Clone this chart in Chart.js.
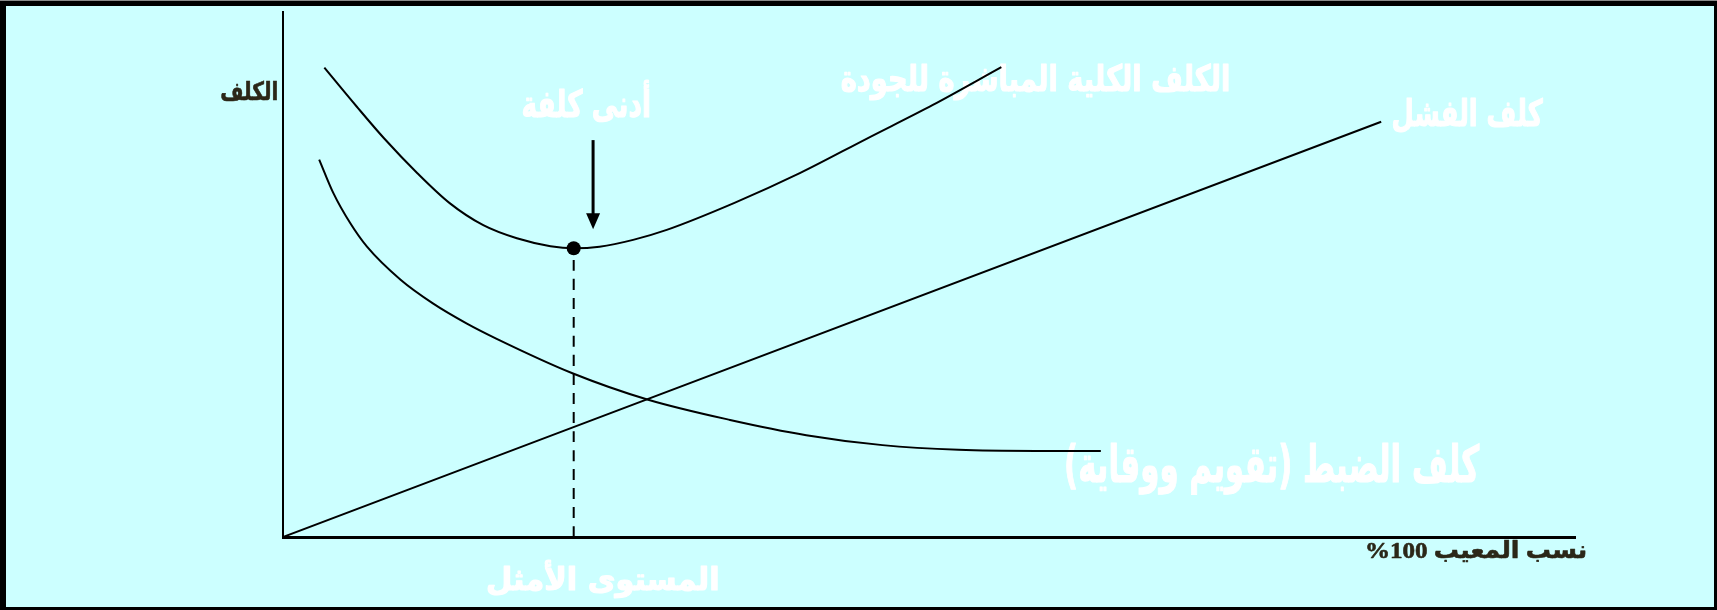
<!DOCTYPE html>
<html lang="ar">
<head>
<meta charset="utf-8">
<title>الكلف الكلية المباشرة للجودة</title>
<script src="https://cdn.jsdelivr.net/npm/chart.js@4.4.1/dist/chart.umd.min.js"></script>
<style>
    html, body { margin: 0; padding: 0; background: #ccffff; }
    #wrap { width: 1717px; height: 610px; }
</style>
</head>
<body>
<div id="wrap"><canvas id="costChart" width="1717" height="610"></canvas></div>
<script>
// values: x = نسب المعيب (0..100), y = الكلف (0..100)
const failureX = [0, 85.0];
const failureY = [0, 79.1];

const controlX = [2.8, 3.9, 5.2, 6.5, 9.1, 11.6, 14.2, 16.5, 22.4, 28.2, 34.6, 40.5, 46.4, 52.3, 58.3, 63.3];
const controlY = [71.9, 65.5, 59.8, 55.3, 49.0, 44.5, 40.7, 37.8, 31.2, 26.2, 22.3, 19.4, 17.5, 16.6, 16.4, 16.4];

const totalX = [3.2, 5.7, 7.8, 10.4, 12.9, 15.5, 18.1, 20.7, 22.5, 24.5, 27.1, 29.7, 34.9, 40.0, 45.2, 50.3, 55.6];
const totalY = [89.4, 82.0, 76.0, 69.3, 63.6, 59.4, 56.9, 55.4, 55.0, 55.3, 56.6, 58.5, 63.6, 69.3, 75.9, 82.3, 89.5];

// optimum (minimum total cost) and the arrow pointing at it
const optimumX = 22.5;
const optimumY = 55.0;
const arrowX = 24.0;
const arrowFrom = 75.6;
const arrowTo = 58.6;

const axisRange = [0, 100];

// texts of the figure
const labels = {
    yTitle: 'الكلف',
    xTitle: '%100 نسب المعيب',
    minCost: 'أدنى كلفة',
    total: 'الكلف الكلية المباشرة للجودة',
    failure: 'كلف الفشل',
    control: 'كلف الضبط (تقويم ووقاية)',
    optimum: 'المستوى الأمثل'
};

const toPoints = (xs, ys) => xs.map((x, i) => ({ x: x, y: ys[i] }));

// where each text sits: centre x, centre y, box width, box height (pixels)
const labelLayout = [
    { key: 'yTitle',  cx: 249,  cy: 90,  w: 56,  h: 21, color: '#2b2718', serif: true, dir: 'rtl' },
    { key: 'xTitle',  cx: 1476, cy: 551, w: 218, h: 22, color: '#2b2718', serif: true, dir: 'ltr' },
    { key: 'minCost', cx: 586,  cy: 101, w: 126, h: 43, color: '#ffffff', dir: 'rtl' },
    { key: 'total',   cx: 1035, cy: 81,  w: 387, h: 37, color: '#ffffff', dir: 'rtl' },
    { key: 'failure', cx: 1468, cy: 115, w: 150, h: 36, color: '#ffffff', dir: 'rtl' },
    { key: 'control', cx: 1273, cy: 469, w: 413, h: 52, color: '#ffffff', dir: 'rtl' },
    { key: 'optimum', cx: 603,  cy: 579, w: 230, h: 38, color: '#ffffff', dir: 'rtl' }
];

function drawFittedText(ctx, text, box) {
    const family = box.serif ? '"Liberation Serif", "DejaVu Sans", serif' : '"DejaVu Sans", "Liberation Sans", sans-serif';
    ctx.save();
    ctx.direction = box.dir;
    ctx.textAlign = 'left';
    ctx.textBaseline = 'alphabetic';
    ctx.font = 'bold 40px ' + family;
    let m = ctx.measureText(text);
    const boxH = m.actualBoundingBoxAscent + m.actualBoundingBoxDescent;
    const size = 40 * box.h / boxH;
    ctx.font = 'bold ' + size.toFixed(2) + 'px ' + family;
    m = ctx.measureText(text);
    const boxW = m.actualBoundingBoxLeft + m.actualBoundingBoxRight;
    const sx = box.w / boxW;
    const base = box.cy + (m.actualBoundingBoxAscent - m.actualBoundingBoxDescent) / 2;
    ctx.translate(box.cx - box.w / 2, base);
    ctx.scale(sx, 1);
    ctx.fillStyle = box.color;
    ctx.strokeStyle = box.color;
    ctx.lineWidth = box.serif ? 0.6 : 1.2;
    ctx.lineJoin = 'round';
    ctx.fillText(text, m.actualBoundingBoxLeft, 0);
    ctx.strokeText(text, m.actualBoundingBoxLeft, 0);
    ctx.restore();
}

const figurePlugin = {
    id: 'figure',
    beforeDraw(chart) {
        const ctx = chart.ctx;
        ctx.save();
        ctx.fillStyle = '#ccffff';
        ctx.fillRect(0, 0, chart.width, chart.height);
        ctx.restore();
    },
    beforeDatasetsDraw(chart) {
        labelLayout.forEach(box => drawFittedText(chart.ctx, labels[box.key], box));
    },
    afterDraw(chart) {
        const ctx = chart.ctx;
        const xs = chart.scales.x, ys = chart.scales.y;
        const ax = xs.getPixelForValue(arrowX);
        const top = ys.getPixelForValue(arrowFrom);
        const tip = ys.getPixelForValue(arrowTo);
        ctx.save();
        ctx.strokeStyle = '#000';
        ctx.fillStyle = '#000';
        ctx.lineWidth = 3;
        ctx.beginPath();
        ctx.moveTo(ax, top);
        ctx.lineTo(ax, tip - 10);
        ctx.stroke();
        ctx.beginPath();
        ctx.moveTo(ax - 7, tip - 16);
        ctx.lineTo(ax + 7, tip - 16);
        ctx.lineTo(ax, tip);
        ctx.closePath();
        ctx.fill();

        // frame round the figure
        ctx.fillStyle = '#000';
        ctx.fillRect(0, 0, chart.width, 6);
        ctx.fillRect(0, 0, 6, chart.height);
        ctx.fillRect(chart.width - 3, 0, 3, chart.height);
        ctx.fillRect(0, chart.height - 3, chart.width, 3);
        ctx.fillStyle = '#8a8a8a';
        ctx.fillRect(0, 0, chart.width, 1);
        ctx.restore();
    }
};

const lineStyle = {
    showLine: true,
    borderColor: '#000',
    borderWidth: 2,
    pointRadius: 0,
    fill: false,
    cubicInterpolationMode: 'monotone'
};

new Chart(document.getElementById('costChart'), {
    type: 'scatter',
    data: {
        datasets: [
            { ...lineStyle, label: labels.failure, data: toPoints(failureX, failureY) },
            { ...lineStyle, label: labels.control, data: toPoints(controlX, controlY) },
            { ...lineStyle, label: labels.total, data: toPoints(totalX, totalY) },
            { ...lineStyle, label: labels.optimum, data: [{ x: optimumX, y: 0 }, { x: optimumX, y: optimumY }], borderDash: [11, 8] },
            { label: labels.minCost, data: [{ x: optimumX, y: optimumY }], showLine: false,
              pointRadius: 7, pointBackgroundColor: '#000', pointBorderColor: '#000', pointBorderWidth: 0 }
        ]
    },
    options: {
        responsive: false,
        animation: false,
        devicePixelRatio: 1,
        layout: { padding: { left: 283, right: 142, top: 12, bottom: 73 } },
        plugins: { legend: { display: false }, tooltip: { enabled: false } },
        scales: {
            x: {
                type: 'linear', min: axisRange[0], max: axisRange[1],
                ticks: { display: false },
                grid: { display: false, drawTicks: false },
                border: { display: true, color: '#000', width: 3 }
            },
            y: {
                type: 'linear', min: axisRange[0], max: axisRange[1],
                ticks: { display: false },
                grid: { display: false, drawTicks: false },
                border: { display: true, color: '#000', width: 2 }
            }
        }
    },
    plugins: [figurePlugin]
});
</script>
</body>
</html>
